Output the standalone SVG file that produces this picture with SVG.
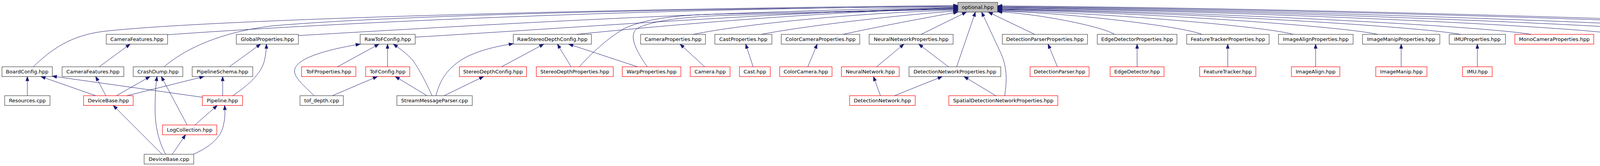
<svg xmlns="http://www.w3.org/2000/svg" width="5146" height="425" viewBox="0 0 5146 425">
<style>
.n rect{fill:#ffffff;stroke:#404040;stroke-width:1.2}
.n.r rect{stroke:#ff0000}
.n.root rect{fill:#bfbfbf}
.n text{font-family:"DejaVu Sans","Liberation Sans",sans-serif;font-size:13px;text-anchor:middle;fill:#000000}
#edges path{fill:none;stroke:#191970;stroke-width:1;marker-end:url(#ah)}
</style>
<defs>
<marker id="ah" markerWidth="12" markerHeight="9" refX="11" refY="4" orient="auto" markerUnits="userSpaceOnUse" overflow="visible"><path d="M0,0 L11,4 L0,8 Z" fill="#191970" stroke="#191970" stroke-width="1"/></marker>
</defs>
<rect width="5146" height="425" fill="#ffffff"/>
<g id="nodes">
<g id="optional" class="n root"><rect x="2452" y="6" width="102" height="25"/><text x="2503" y="23">optional.hpp</text></g>
<g id="cf2" class="n"><rect x="272" y="88" width="157" height="25"/><text x="350.5" y="105">CameraFeatures.hpp</text></g>
<g id="gp" class="n"><rect x="605" y="88" width="159" height="25"/><text x="684.5" y="105">GlobalProperties.hpp</text></g>
<g id="rtof" class="n"><rect x="922" y="88" width="141" height="25"/><text x="992.5" y="105">RawToFConfig.hpp</text></g>
<g id="rsd" class="n"><rect x="1314" y="88" width="200" height="25"/><text x="1414" y="105">RawStereoDepthConfig.hpp</text></g>
<g id="camp" class="n"><rect x="1640" y="88" width="166" height="25"/><text x="1723" y="105">CameraProperties.hpp</text></g>
<g id="castp" class="n"><rect x="1830" y="88" width="146" height="25"/><text x="1903" y="105">CastProperties.hpp</text></g>
<g id="ccp" class="n"><rect x="2000" y="88" width="201" height="25"/><text x="2100.5" y="105">ColorCameraProperties.hpp</text></g>
<g id="nnp" class="n"><rect x="2225" y="88" width="215" height="25"/><text x="2332.5" y="105">NeuralNetworkProperties.hpp</text></g>
<g id="dpp" class="n"><rect x="2566" y="88" width="218" height="25"/><text x="2675" y="105">DetectionParserProperties.hpp</text></g>
<g id="edp" class="n"><rect x="2809" y="88" width="204" height="25"/><text x="2911" y="105">EdgeDetectorProperties.hpp</text></g>
<g id="ftp" class="n"><rect x="3038" y="88" width="211" height="25"/><text x="3143.5" y="105">FeatureTrackerProperties.hpp</text></g>
<g id="iap" class="n"><rect x="3273" y="88" width="191" height="25"/><text x="3368.5" y="105">ImageAlignProperties.hpp</text></g>
<g id="imp" class="n"><rect x="3488" y="88" width="198" height="25"/><text x="3587" y="105">ImageManipProperties.hpp</text></g>
<g id="imup" class="n"><rect x="3710" y="88" width="144" height="25"/><text x="3782" y="105">IMUProperties.hpp</text></g>
<g id="mcp" class="n r"><rect x="3878" y="88" width="202" height="25"/><text x="3979" y="105">MonoCameraProperties.hpp</text></g>
<g id="otp" class="n r"><rect x="4105" y="88" width="204" height="25"/><text x="4207" y="105">ObjectTrackerProperties.hpp</text></g>
<g id="pcp" class="n r"><rect x="4334" y="88" width="187" height="25"/><text x="4427.5" y="105">PointCloudProperties.hpp</text></g>
<g id="sp" class="n r"><rect x="4545" y="88" width="154" height="25"/><text x="4622" y="105">ScriptProperties.hpp</text></g>
<g id="slc" class="n r"><rect x="4722" y="81" width="188" height="40"/><text x="4816" y="98">SpatialLocationCalculator</text><text x="4816" y="112">Properties.hpp</text></g>
<g id="vep" class="n r"><rect x="4935" y="88" width="206" height="25"/><text x="5038" y="105">VideoEncoderProperties.hpp</text></g>
<g id="bc" class="n"><rect x="5" y="171" width="129" height="25"/><text x="69.5" y="188">BoardConfig.hpp</text></g>
<g id="cf3" class="n"><rect x="159" y="171" width="158" height="25"/><text x="238" y="188">CameraFeatures.hpp</text></g>
<g id="cd" class="n"><rect x="341" y="171" width="127" height="25"/><text x="404.5" y="188">CrashDump.hpp</text></g>
<g id="ps" class="n"><rect x="492" y="171" width="155" height="25"/><text x="569.5" y="188">PipelineSchema.hpp</text></g>
<g id="tofp" class="n r"><rect x="772" y="171" width="139" height="25"/><text x="841.5" y="188">ToFProperties.hpp</text></g>
<g id="tofc" class="n r"><rect x="936" y="171" width="113" height="25"/><text x="992.5" y="188">ToFConfig.hpp</text></g>
<g id="sdc" class="n r"><rect x="1176" y="171" width="172" height="25"/><text x="1262" y="188">StereoDepthConfig.hpp</text></g>
<g id="sdp" class="n r"><rect x="1373" y="171" width="197" height="25"/><text x="1471.5" y="188">StereoDepthProperties.hpp</text></g>
<g id="wp" class="n r"><rect x="1593" y="171" width="150" height="25"/><text x="1668" y="188">WarpProperties.hpp</text></g>
<g id="cam" class="n r"><rect x="1767" y="171" width="102" height="25"/><text x="1818" y="188">Camera.hpp</text></g>
<g id="cast" class="n r"><rect x="1893" y="171" width="79" height="25"/><text x="1932.5" y="188">Cast.hpp</text></g>
<g id="cc" class="n r"><rect x="1996" y="171" width="134" height="25"/><text x="2063" y="188">ColorCamera.hpp</text></g>
<g id="nn" class="n r"><rect x="2154" y="171" width="148" height="25"/><text x="2228" y="188">NeuralNetwork.hpp</text></g>
<g id="dnp" class="n"><rect x="2327" y="171" width="235" height="25"/><text x="2444.5" y="188">DetectionNetworkProperties.hpp</text></g>
<g id="dp" class="n r"><rect x="2637" y="171" width="151" height="25"/><text x="2712.5" y="188">DetectionParser.hpp</text></g>
<g id="ed" class="n r"><rect x="2842" y="171" width="138" height="25"/><text x="2911" y="188">EdgeDetector.hpp</text></g>
<g id="ft" class="n r"><rect x="3071" y="171" width="144" height="25"/><text x="3143" y="188">FeatureTracker.hpp</text></g>
<g id="ia" class="n r"><rect x="3306" y="171" width="124" height="25"/><text x="3368" y="188">ImageAlign.hpp</text></g>
<g id="im" class="n r"><rect x="3522" y="171" width="131" height="25"/><text x="3587.5" y="188">ImageManip.hpp</text></g>
<g id="imu" class="n r"><rect x="3744" y="171" width="76" height="25"/><text x="3782" y="188">IMU.hpp</text></g>
<g id="res" class="n"><rect x="12" y="245" width="116" height="25"/><text x="70" y="262">Resources.cpp</text></g>
<g id="dbh" class="n r"><rect x="214" y="245" width="127" height="25"/><text x="277.5" y="262">DeviceBase.hpp</text></g>
<g id="pl" class="n r"><rect x="518" y="245" width="103" height="25"/><text x="569.5" y="262">Pipeline.hpp</text></g>
<g id="tof" class="n"><rect x="768" y="245" width="111" height="25"/><text x="823.5" y="262">tof_depth.cpp</text></g>
<g id="smp" class="n"><rect x="1016" y="245" width="193" height="25"/><text x="1112.5" y="262">StreamMessageParser.cpp</text></g>
<g id="dn" class="n r"><rect x="2175" y="245" width="168" height="25"/><text x="2259" y="262">DetectionNetwork.hpp</text></g>
<g id="sdnp" class="n r"><rect x="2429" y="245" width="279" height="25"/><text x="2568.5" y="262">SpatialDetectionNetworkProperties.hpp</text></g>
<g id="lc" class="n r"><rect x="416" y="320" width="139" height="25"/><text x="485.5" y="337">LogCollection.hpp</text></g>
<g id="dbc" class="n"><rect x="369" y="395" width="127" height="25"/><text x="432.5" y="412">DeviceBase.cpp</text></g>
</g>
<g id="edges">
<path d="M85,171 C130,128 180,90 268,80 C560,48 1600,22 2452,14"/>
<path d="M429,89 C900,55 1700,22 2452,16"/>
<path d="M420,171 C470,128 560,82 700,66 C1000,40 1700,22 2452,17"/>
<path d="M764,91 C1100,72 1800,28 2452,19"/>
<path d="M1063,95 C1400,76 2000,30 2452,20"/>
<path d="M1476,88 C1700,65 2100,30 2452,21"/>
<path d="M1483,171 C1520,130 1560,95 1600,72 C1660,45 1750,38 1840,36 C2050,32 2300,25 2452,23"/>
<path d="M1657,171 C1625,125 1610,90 1630,74 C1660,55 1740,44 1840,40 C2050,34 2300,26 2452,24"/>
<path d="M1775,88 C1900,62 2200,32 2452,26"/>
<path d="M1949,88 C2050,68 2300,38 2452,28"/>
<path d="M2158,88 C2250,68 2370,45 2452,31"/>
<path d="M2358,88 L2474,31"/>
<path d="M2449,171 L2497,31"/>
<path d="M2572,245 C2578,205 2578,175 2564,140 L2513,31"/>
<path d="M2649,88 L2530,31"/>
<path d="M2853,88 C2823,68 2659,35 2554,30"/>
<path d="M3077,88 C3025,67 2737,33 2554,28"/>
<path d="M3311,88 C3235,67 2819,32 2554,27"/>
<path d="M3527,88 C3430,66 2895,30 2554,25"/>
<path d="M3739,88 C3620,66 2969,29 2554,24"/>
<path d="M3920,88 C3783,65 3032,28 2554,23"/>
<path d="M4147,88 C3988,64 3112,26 2554,21"/>
<path d="M4374,88 C4192,64 3191,25 2554,20"/>
<path d="M4577,88 C4375,63 3262,24 2554,18"/>
<path d="M4722,81 C4505,59 3313,22 2554,17"/>
<path d="M4979,88 C4737,62 3403,21 2554,15"/>
<path d="M254,171 L333,113"/>
<path d="M587,171 L667,113"/>
<path d="M596,245 C640,215 672,185 678,150 C681,135 682,122 682,113"/>
<path d="M70,245 L70,196"/>
<path d="M245,245 L105,196"/>
<path d="M518,249 L134,195"/>
<path d="M271,245 L245,196"/>
<path d="M298,245 L384,196"/>
<path d="M325,245 L522,196"/>
<path d="M570,245 L570,196"/>
<path d="M415,395 L290,270"/>
<path d="M424,395 C405,360 397,320 397,280 C397,240 399,215 402,196"/>
<path d="M479,320 L413,196"/>
<path d="M499,320 L556,270"/>
<path d="M441,395 L475,345"/>
<path d="M495,395 C540,375 567,350 572,320 C577,300 576,285 575,270"/>
<path d="M804,245 C785,225 752,200 754,180 C758,150 830,128 922,113"/>
<path d="M864,171 L970,113"/>
<path d="M992,171 L992,113"/>
<path d="M1106,245 C1090,210 1075,180 1057,155 C1040,135 1020,122 1007,113"/>
<path d="M851,245 L966,196"/>
<path d="M1093,245 L1012,196"/>
<path d="M1116,245 C1125,210 1140,185 1165,165 C1200,135 1260,120 1314,112"/>
<path d="M1137,245 L1238,196"/>
<path d="M1284,171 L1392,113"/>
<path d="M1462,171 L1427,113"/>
<path d="M1632,171 L1456,113"/>
<path d="M1804,171 L1741,113"/>
<path d="M1928,171 L1909,113"/>
<path d="M2068,171 L2092,113"/>
<path d="M2244,171 L2314,113"/>
<path d="M2428,171 L2352,113"/>
<path d="M2254,245 L2236,196"/>
<path d="M2290,245 L2412,196"/>
<path d="M2549,245 L2468,196"/>
<path d="M2707,171 L2683,113"/>
<path d="M2911,171 L2911,113"/>
<path d="M3143,171 L3143,113"/>
<path d="M3368,171 L3368,113"/>
<path d="M3587,171 L3587,113"/>
<path d="M3782,171 L3782,113"/>
</g>
</svg>
